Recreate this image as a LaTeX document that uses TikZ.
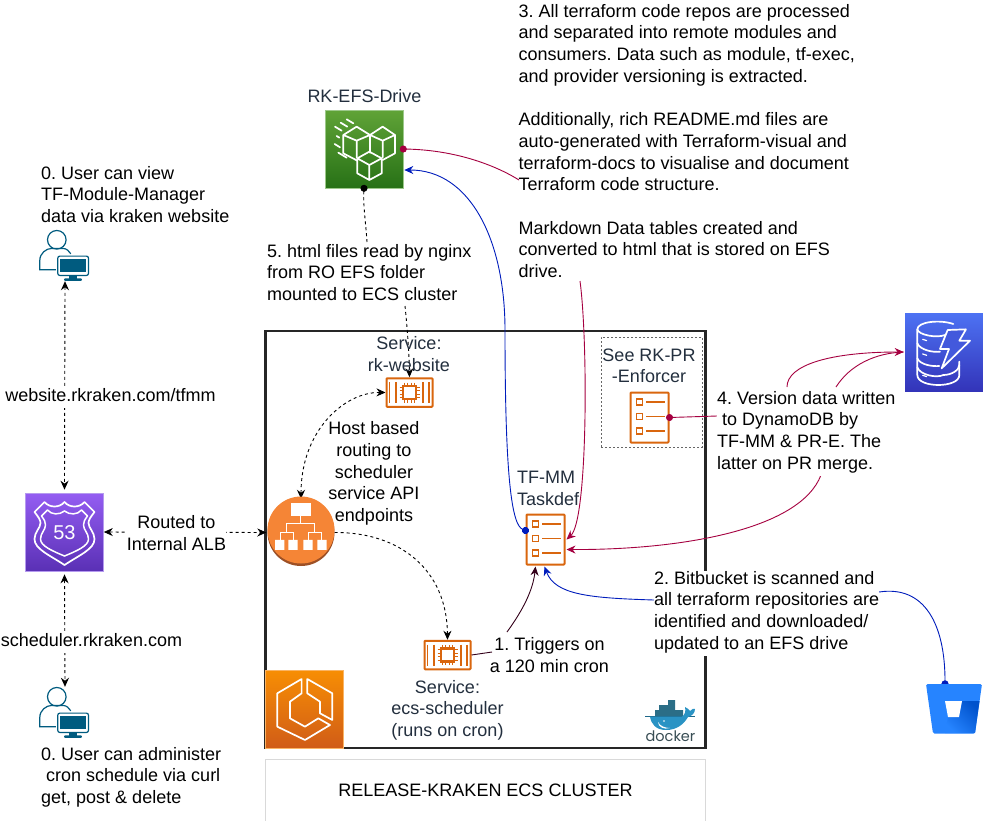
\documentclass[tikz,border=0pt]{standalone}
\usepackage{fontspec}
\setmainfont{Liberation Sans}
\newfontfamily\dockerfont{Poppins}
\usetikzlibrary{arrows.meta,calc}
\definecolor{lbl}{HTML}{232F3E}
\definecolor{crim}{HTML}{A50040}
\definecolor{blu}{HTML}{001DBC}
\definecolor{drk}{HTML}{33001A}
\definecolor{ecso}{HTML}{D9660E}
\definecolor{usr}{HTML}{005B7F}
\definecolor{efst}{HTML}{60A337}
\definecolor{efsb}{HTML}{277116}
\definecolor{efsd}{HTML}{9CC88A}
\definecolor{rt}{HTML}{945DF2}
\definecolor{rb}{HTML}{5A30B5}
\definecolor{rd}{HTML}{B59AEF}
\definecolor{et}{HTML}{F78E04}
\definecolor{eb}{HTML}{D05C17}
\definecolor{ed}{HTML}{FAB464}
\definecolor{dt}{HTML}{4D72F3}
\definecolor{db}{HTML}{3334B9}
\definecolor{albd}{HTML}{9D5025}
\definecolor{albl}{HTML}{F58536}
\definecolor{bbl}{HTML}{2684FF}
\definecolor{bbd}{HTML}{0052CC}
\definecolor{dockt}{HTML}{384D54}
\definecolor{dockw}{HTML}{2A93C4}
\definecolor{dockc}{HTML}{2B6E87}
\tikzset{
  txt/.style={font=\fontsize{18}{21.7}\selectfont,align=left,inner sep=0pt,anchor=north west,yshift=-2pt,
    execute at begin node=\strut,execute at end node=\strut},
  ctxt/.style={txt,align=center,anchor=center},
  mask/.style={fill=white},
  ilabel/.style={text=lbl},
  dashcon/.style={draw=black,line width=.9pt,dash pattern=on 3pt off 3pt},
  tipa/.style={-{Stealth[length=9pt,width=8pt]}},
  tipb/.style={{Stealth[length=9pt,width=8pt]}-{Stealth[length=9pt,width=8pt]}},
  tipo/.style={{Circle[length=7pt]}-,shorten <=-3.5pt},
  tipoa/.style={{Circle[length=7pt]}-{Stealth[length=9pt,width=8pt]},shorten <=-3.5pt},
  con/.style={line width=.9pt},
  awsbox/.style={minimum width=78pt,minimum height=78pt,inner sep=0pt,line width=.6pt},
  instbox/.style={draw=ecso,line width=2pt,rounded corners=.8pt,minimum width=46pt,minimum height=28.5pt,inner sep=0pt},
  taskbox/.style={draw=ecso,line width=2pt,rounded corners=.8pt,minimum width=38pt,minimum height=50pt,inner sep=0pt},
  wl/.style={draw=white,line width=1.7pt,line join=round,line cap=round},
  ecsinst/.pic={
    \draw[ecso,line width=1.8pt] (-20,-10.5)--(-20,10.5) (-13.5,-10.5)--(-13.5,10.5) (13.5,-10.5)--(13.5,10.5) (19.5,-10.5)--(19.5,10.5);
    \foreach \k in {-5.25,-1.75,1.75,5.25}{
      \draw[ecso,line width=1.3pt] (\k,-10)--(\k,-6.5) (\k,6.5)--(\k,10) (-10,\k)--(-6.5,\k) (6.5,\k)--(10,\k);}
    \draw[ecso,line width=2.4pt] (-6.5,-6.5) rectangle (6.5,6.5);
  },
  taskrows/.pic={
    \foreach \k in {-15.3,-1,13.5}{
      \draw[ecso,line width=1.7pt] (-13,\k-3) rectangle (-7,\k+3);
      \draw[ecso,line width=1.9pt] (-3.5,\k)--(15,\k);}
  },
  userp/.pic={
    \begin{scope}[shift={(-40,-206.67)},x=.3333pt,y=-.3333pt]
      \draw[usr,line width=1.2pt] (171,650) circle (9.3pt);
      \draw[usr,line width=1.2pt] (175,740)--(120,740)--(120,712) .. controls (120,690) and (140,676) .. (155,676) -- (190,676) .. controls (200,676) and (208,684) .. (213,692);
      \fill[white] (170,695) rectangle (270,760);
      \draw[usr,line width=1.2pt,rounded corners=2pt] (174,699) rectangle (266,757);
      \fill[usr] (182,707) rectangle (258,747);
      \fill[usr] (208,757) rectangle (232,767);
      \fill[usr,rounded corners=.8pt] (193,766) rectangle (246,773);
    \end{scope}
  }
}
\begin{document}
\frenchspacing
\begin{tikzpicture}[x=1pt,y=-1pt]
\useasboundingbox (0,0) rectangle (983,820);
\fill[white] (0,0) rectangle (983,820);

% containers
\node[draw=black!85,line width=2.2pt,minimum width=440pt,minimum height=417pt,inner sep=0pt] (cluster) at (485.5,539.5) {};
\node[draw=black!15,line width=.8pt,minimum width=440pt,minimum height=62pt,inner sep=0pt,font=\fontsize{18}{21.7}\selectfont] (caption) at (485.5,790) {RELEASE-KRAKEN ECS CLUSTER};
\node[draw=black!60,line width=.8pt,dash pattern=on 2pt off 2pt,minimum width=101pt,minimum height=110pt,inner sep=0pt] (prbox) at (651.5,392) {};

% icons as named nodes
\node[awsbox,top color=efst,bottom color=efsb,draw=efsd] (efs) at (364,149) {};
\node[awsbox,top color=rt,bottom color=rb,draw=rd] (r53) at (64.5,532) {};
\node[awsbox,top color=et,bottom color=eb,draw=ed] (ecs) at (304.5,709) {};
\node[awsbox,top color=dt,bottom color=db] (ddb) at (944,352) {};
\node[circle,fill=albd,minimum size=67pt,inner sep=0pt] (alb) at (301,532.5) {};
\node[instbox] (web) at (409.5,392.5) {};
\node[instbox] (sch) at (447.5,655) {};
\node[taskbox] (task) at (545.5,539.5) {};
\node[taskbox] (prtask) at (649.5,417.5) {};
\node[minimum width=50pt,minimum height=51pt,inner sep=0pt] (usertop) at (65,255.5) {};
\node[minimum width=50pt,minimum height=51pt,inner sep=0pt] (userbot) at (65,712.5) {};
\node[minimum width=56pt,minimum height=50pt,inner sep=0pt] (bb) at (954,709) {};

% connectors
\draw[dashcon,tipb] (usertop.south) -- ($(r53.north)+(0,-3)$);
\draw[dashcon,tipb] ($(r53.south)+(0,3)$) -- (userbot.north);
\draw[dashcon,tipb] (r53.east) -- ($(alb.west)+(-1,0)$);
\draw[dashcon,tipb] (web.west) .. controls (345,392) and (301,430) .. (alb.north);
\draw[dashcon,tipa] (alb.east) .. controls (400,532) and (447,570) .. (sch.north);
\draw[dashcon,tipo] (efs.south) .. controls (363,205) and (366,225) .. (367,242);
\draw[dashcon,tipa] (405,306) .. controls (407,325) and (409,350) .. (web.north);
\draw[con,crim,tipo] (efs.east) .. controls (455,150) and (495,165) .. (519,180);
\draw[con,blu,tipoa] ($(task.west)+(0,-9)$) .. controls (512,525) and (505,480) .. (505,330) .. controls (505,240) and (470,170) .. ($(efs.east)+(1,21)$);
\draw[con,crim,tipa] (580,281) .. controls (588,340) and (588,520) .. ($(task.east)+(1,0)$);
\draw[con,crim,tipa] (821,475) .. controls (800,530) and (680,550) .. ($(task.east)+(1,10)$);
\draw[con,crim,tipo] (prtask.east) -- (717,416);
\draw[con,crim,tipa] (787,387) .. controls (787,365) and (830,352) .. ($(ddb.west)+(-1,0)$);
\draw[con,crim] (836,387) .. controls (850,365) and (875,353) .. ($(ddb.west)+(-1,0)$);
\draw[con,drk] (sch.east) -- (492,652);
\draw[con,drk,tipa] (507,632) .. controls (523,610) and (533,590) .. ($(task.south)+(-10,1)$);
\draw[con,blu,tipa] (654,600) .. controls (590,598) and (555,595) .. ($(task.south)+(-1,1)$);
\draw[con,blu,tipo] ($(bb.north)+(-9,0)$) .. controls (945,625) and (925,585) .. (879,592);

% labels
\node[ilabel,ctxt] (efslbl) at (364.5,96) {RK-EFS-Drive};
\node[ilabel,ctxt] (weblbl) at (409,355) {Service:\\rk-website};
\node[ilabel,ctxt] (prlbl) at (649,367) {See RK-PR\\-Enforcer};
\node[ilabel,txt] (tasklbl) at (517,469) {TF-MM\\Taskdef};
\node[ilabel,ctxt] (schlbl) at (447.5,709.5) {Service:\\ecs-scheduler\\(runs on cron)};
\node[txt] (t3) at (518.5,2) {3. All terraform code repos are processed\\and separated into remote modules and\\consumers. Data such as module, tf-exec,\\and provider versioning is extracted.\\[21.7pt]Additionally, rich README.md files are\\auto-generated with Terraform-visual and\\terraform-docs to visualise and document\\Terraform code structure.\\[21.7pt]Markdown Data tables created and\\converted to html that is stored on EFS\\drive.};
\node[txt] (t0a) at (41,164) {0. User can view\\TF-Module-Manager\\data via kraken website};
\node[txt] (t5) at (267,242) {5. html files read by nginx\\from RO EFS folder\\mounted to ECS cluster};
\node[ctxt,mask] (lweb) at (110.5,395) {website.rkraken.com/tfmm};
\node[ctxt,mask] (lsch) at (91.5,640) {scheduler.rkraken.com};
\node[ctxt,mask] (lalb) at (176.5,534) {Routed to\\Internal ALB};
\node[ctxt] (lhost) at (374,473) {Host based\\routing to\\scheduler\\service API\\endpoints};
\node[txt,mask] (t4) at (717,389) {4. Version data written\\\hspace*{5pt}to DynamoDB by\\TF-MM \& PR-E. The\\latter on PR merge.};
\node[txt,mask] (t2) at (654,569) {2. Bitbucket is scanned and\\all terraform repositories are\\identified and downloaded/\\updated to an EFS drive};
\node[ctxt] (t1) at (549.5,656) {1. Triggers on\\a 120 min cron};
\node[txt] (t0b) at (41,745) {0. User can administer\\\hspace*{5pt}cron schedule via curl\\get, post \& delete};

% icon details
\pic at (web.center) {ecsinst};
\pic at (sch.center) {ecsinst};
\pic at (task.center) {taskrows};
\pic at (prtask.center) {taskrows};
\pic at (usertop.north west) {userp};
\pic at (userbot.north west) {userp};

% EFS
\begin{scope}[shift={(300,80)},x=.3333pt,y=-.3333pt]
  \draw[wl] (170,140)--(130,165)--(130,220)--(172,242) (130,165)--(170,182)--(210,165)--(170,140) (170,182)--(170,232);
  \draw[wl] (248,140)--(210,165)--(210,218) (248,140)--(285,165)--(285,220)--(248,240) (210,165)--(248,182)--(285,165) (248,182)--(248,232);
  \draw[wl] (208,215)--(172,235)--(172,280)--(208,300)--(245,280)--(245,235)--cycle (172,235)--(208,255)--(245,235) (208,255)--(208,300);
  \draw[wl] (140,118)--(160,130) (122,128)--(142,140) (105,140)--(125,152) (110,168)--(118,173) (104,192)--(120,202) (115,218)--(140,233);
\end{scope}
% Route 53
\foreach \s in {1,-1}{
\begin{scope}[shift={(64.5,493)},xscale=\s]
  \draw[wl] (0,9) .. controls (5,15) and (15,15) .. (20,9) -- (30,19) .. controls (26,24) and (24,27) .. (24,30) .. controls (24,35) and (30,39) .. (30,46) .. controls (30,56) and (15,62) .. (0,72);
  \draw[wl,line width=1.5pt] (0,18) .. controls (5,22) and (13,22) .. (17,17) -- (23,23) .. controls (20,27) and (19,29) .. (19,32) .. controls (19,37) and (24,40) .. (24,46) .. controls (24,53) and (12,58) .. (0,63);
\end{scope}}
\node[text=white,inner sep=0pt,font=\fontsize{20}{20}\selectfont] (lab53) at (64.5,533) {53};
% ECS
\begin{scope}[shift={(0,480)},x=.3333pt,y=-.3333pt]
  \draw[wl] (905,597)--(832,640)--(832,740)--(915,780)--(990,735)--(955,715)--(915,740)--(870,715)--(870,665)--(905,640)--cycle;
  \draw[wl] (922,597)--(997,640)--(997,720)--(960,700)--(960,665)--(922,640)--cycle;
\end{scope}
% ALB
\fill[albl] (301,530) circle (33.5pt);
\begin{scope}[shift={(260,370)},x=.3333pt,y=-.3333pt]
  \fill[white] (93,400) rectangle (153,437);
  \fill[white] (45,510) rectangle (73,540) (85,510) rectangle (113,540) (130,510) rectangle (158,540) (172,510) rectangle (200,540);
  \draw[white,line width=1pt] (123,437)--(123,460) (80,487)--(80,460)--(165,460)--(165,487) (60,510)--(60,487)--(100,487)--(100,510) (145,510)--(145,487)--(185,487)--(185,510);
\end{scope}
% DynamoDB
\begin{scope}[shift={(900,310)},x=.3333pt,y=-.3333pt]
  \draw[wl] (160,42) .. controls (120,28) and (52,35) .. (52,58) -- (52,195) .. controls (52,235) and (178,235) .. (178,195) -- (178,155);
  \draw[wl] (52,58) .. controls (55,75) and (110,85) .. (135,75);
  \draw[wl] (52,100) .. controls (60,120) and (100,128) .. (120,125);
  \draw[wl] (52,145) .. controls (60,165) and (100,170) .. (118,168);
  \draw[wl] (52,172) .. controls (60,195) and (110,205) .. (130,195) .. controls (155,195) and (178,180) .. (178,165);
  \draw[wl,line width=1.2pt] (68,88)--(80,92) (68,132)--(80,136) (68,196)--(80,200);
  \draw[wl,fill=dt!60!db] (143,60)--(198,58)--(178,92)--(210,92)--(125,175)--(147,117)--(120,117)--cycle;
\end{scope}
% Bitbucket
\fill[bbl,rounded corners=1.5pt] (926,684) -- (982,684) -- (975,733.5) -- (933,733.5) -- cycle;
\shade[top color=bbd,bottom color=bbl,shading angle=-45] (979.5,701) -- (962,701) -- (959,717) -- (948,717) -- (945,733) -- (975,733) -- cycle;
\fill[white] (945,701) -- (962,701) -- (959,717) -- (948,717) -- cycle;
% Docker
\fill[dockc] (668,700) rectangle (675,705) (659,705) rectangle (675,710) (655,710) rectangle (683,716);
\draw[dockw!70!black,line width=.3pt] (645,716.5)--(695,716.5);
\fill[dockw] (650,716.5) -- (682,716.5) .. controls (685,715) and (686,711) .. (685,707) .. controls (688,708) and (689,710) .. (690,711) .. controls (692,709) and (694,708) .. (695,709) .. controls (695,713) and (692,716) .. (688,717) .. controls (684,724) and (677,730) .. (666,730) .. controls (656,730) and (651,724) .. (650,716.5) -- cycle;
\fill[white] (658,722) .. controls (660,726) and (665,728) .. (670,728) .. controls (664,730) and (658,727) .. (658,722) -- cycle;
\fill[white] (664,721) circle (.9pt);
\node[inner sep=0pt,text=dockt,font=\dockerfont\fontsize{14.5}{14.5}\selectfont] (dock) at (670.5,736) {docker};
\end{tikzpicture}
\end{document}
